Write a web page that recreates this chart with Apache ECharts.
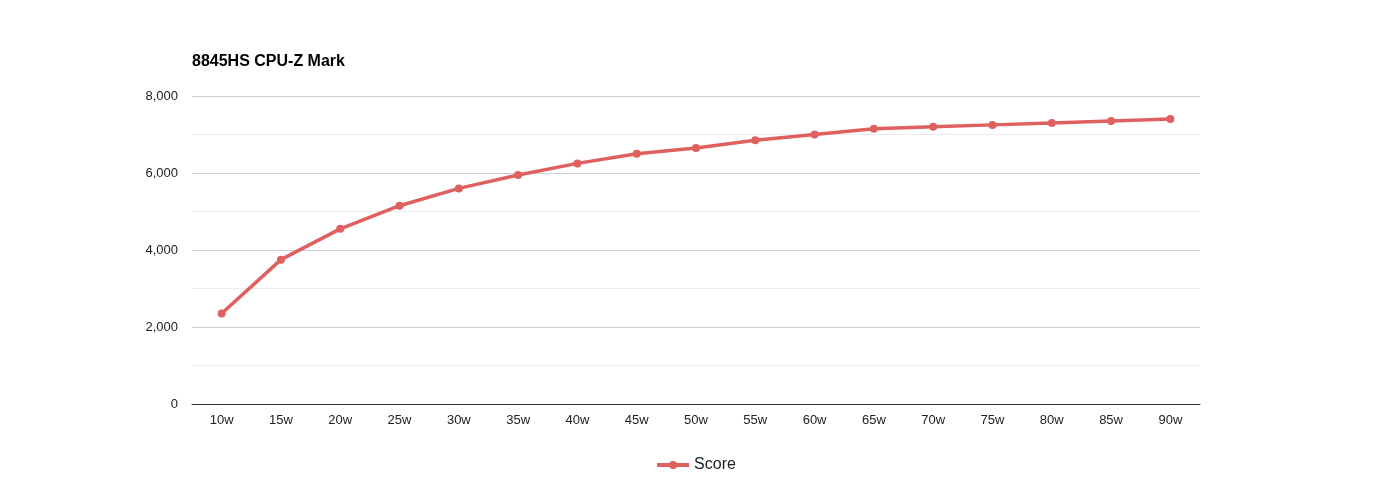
<!DOCTYPE html>
<html>
<head>
<meta charset="utf-8">
<script src="https://cdn.jsdelivr.net/npm/echarts@6/dist/echarts.min.js"></script>
<style>
html,body{margin:0;padding:0;background:#fff;}
#chart{width:1391px;height:500px;}
</style>
</head>
<body>
<div id="chart"></div>
<script>
const categories = ['10w','15w','20w','25w','30w','35w','40w','45w','50w','55w','60w','65w','70w','75w','80w','85w','90w'];
const scoreValues = [2350,3750,4550,5150,5600,5950,6250,6500,6650,6850,7000,7150,7200,7250,7300,7350,7400];
const titleText = '8845HS CPU-Z Mark';
const seriesName = 'Score';
const FONT = '"Liberation Sans", Arial, sans-serif';

const chart = echarts.init(document.getElementById('chart'));
chart.setOption({
  animation: false,
  textStyle: { fontFamily: FONT },
  title: {
    text: titleText,
    left: 187, top: 49,
    textStyle: { fontSize: 16, fontWeight: 'bold', color: '#000', fontFamily: FONT }
  },
  legend: {
    bottom: 22, left: 'center',
    itemWidth: 32, itemHeight: 10, itemGap: 8,
    lineStyle: { width: 4 },
    textStyle: { fontSize: 16, color: '#222', fontFamily: FONT },
    data: [seriesName]
  },
  grid: { left: 192, right: 191, top: 96, bottom: 96, containLabel: false },
  xAxis: {
    type: 'category',
    data: categories,
    boundaryGap: true,
    axisLine: { lineStyle: { color: '#333', width: 1 } },
    axisTick: { show: false },
    axisLabel: { color: '#222', fontSize: 13, margin: 10 }
  },
  yAxis: {
    type: 'value',
    min: 0, max: 8000, interval: 2000,
    axisLine: { show: false },
    axisTick: { show: false },
    axisLabel: { color: '#222', fontSize: 13, margin: 14,
      formatter: v => v.toLocaleString('en-US') },
    splitLine: { lineStyle: { color: '#cccccc', width: 1 } },
    minorTick: { show: false, splitNumber: 2 },
    minorSplitLine: { show: true, lineStyle: { color: '#ebebeb', width: 1 } }
  },
  series: [{
    name: seriesName,
    type: 'line',
    data: scoreValues,
    symbol: 'circle',
    symbolSize: 8,
    lineStyle: { color: '#e06060', width: 3.5 },
    itemStyle: { color: '#e06060' }
  }]
});
</script>
</body>
</html>
